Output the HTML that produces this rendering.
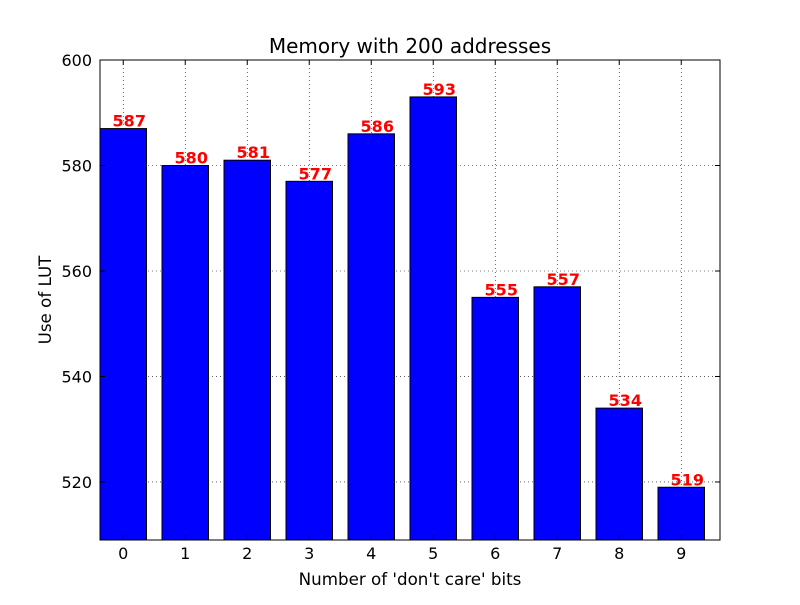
<!DOCTYPE html>
<html><head><meta charset="utf-8"><style>
body{margin:0;background:#fff;width:800px;height:600px;overflow:hidden}
svg{font-family:"DejaVu Sans","Liberation Sans",sans-serif}
</style></head><body>
<svg id="chart" width="800" height="600">
<rect x="0" y="0" width="800" height="600" fill="#fff"/>
<g id="grid"></g><g id="bars"></g><g id="labels"></g><g id="axes"></g>
<text x="410" y="53" text-anchor="middle" font-size="20">Memory with 200 addresses</text>
<text x="410" y="585" text-anchor="middle" font-size="16.7">Number of 'don't care' bits</text>
<text x="51" y="300" text-anchor="middle" font-size="16.7" transform="rotate(-90 51 300)">Use of LUT</text>
</svg>
<script>
const categories=[0,1,2,3,4,5,6,7,8,9];
const values=[587,580,581,577,586,593,555,557,534,519];
const yTicks=[520,540,560,580,600];
const X0=100,X1=720,Y0=60,Y1=540,XMIN=-0.375,XMAX=9.625,YMIN=509,YMAX=600,BW=0.75;
const NS="http://www.w3.org/2000/svg";
const xs=v=>X0+(v-XMIN)/(XMAX-XMIN)*(X1-X0);
const ys=v=>Y1-(v-YMIN)/(YMAX-YMIN)*(Y1-Y0);
function mk(t,a,p){const e=document.createElementNS(NS,t);for(const k in a)e.setAttribute(k,a[k]);document.getElementById(p).appendChild(e);return e;}
categories.forEach((c,i)=>{
 const b=mk('rect',{x:xs(c-BW/2),y:ys(values[i]),width:xs(c+BW/2)-xs(c-BW/2),height:Y1-ys(values[i]),fill:'#0000ff',stroke:'#000','stroke-width':1},'bars');
 
 
 const l=mk('text',{x:xs(c)+6,y:ys(values[i])-2,'text-anchor':'middle','font-size':16,'font-weight':'bold',fill:'#ff0000'},'labels');
 l.textContent=values[i];
 
 
 const g=mk('line',{x1:xs(c),x2:xs(c),y1:Y0,y2:Y1,stroke:'#000','stroke-width':0.6,'stroke-dasharray':'1,3'},'grid');
 
 
 const t=mk('text',{x:xs(c),y:Y1+19,'text-anchor':'middle','font-size':16},'axes');
 t.textContent=c;
 
 
 mk('line',{x1:xs(c),x2:xs(c),y1:Y1,y2:Y1-5,stroke:'#000'},'axes');
 mk('line',{x1:xs(c),x2:xs(c),y1:Y0,y2:Y0+5,stroke:'#000'},'axes');
});
yTicks.forEach(v=>{
 const g=mk('line',{x1:X0,x2:X1,y1:ys(v),y2:ys(v),stroke:'#000','stroke-width':0.6,'stroke-dasharray':'1,3'},'grid');
 
 
 const t=mk('text',{x:X0-8,y:ys(v)+6,'text-anchor':'end','font-size':16},'axes');
 t.textContent=v;
 
 
 mk('line',{x1:X0,x2:X0+5,y1:ys(v),y2:ys(v),stroke:'#000'},'axes');
 mk('line',{x1:X1,x2:X1-5,y1:ys(v),y2:ys(v),stroke:'#000'},'axes');
});
const f=mk('rect',{x:X0,y:Y0,width:X1-X0,height:Y1-Y0,fill:'none',stroke:'#000','stroke-width':1},'axes');


</script>
</body></html>
